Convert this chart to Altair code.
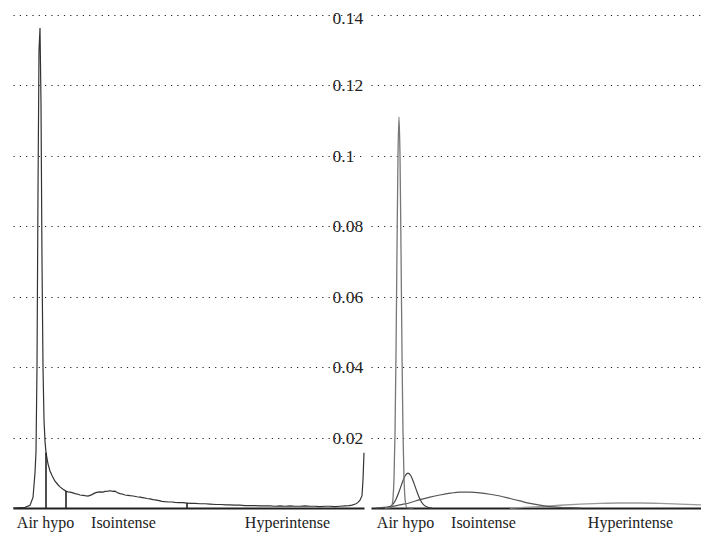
import altair as alt
import pandas as pd

# ---------------- data ----------------
# left panel: measured intensity histogram (bin index -> relative frequency)
hist_bin = [0, 12, 17, 20, 22, 23, 24, 25, 26, 27, 28, 29, 30, 31, 32, 33, 35, 37, 39, 42,
            45, 47, 50, 53, 55, 57, 60, 62, 65, 67, 70, 72, 75, 77, 79, 82, 85, 87, 90, 92,
            95, 97, 100, 102, 104, 107, 110, 112, 115, 117, 120, 124, 127, 131, 134, 137, 140, 142,
            146, 149, 152, 156, 159, 162, 166, 170, 174, 178, 182, 187, 192, 197, 203, 208, 213,
            217, 222, 227, 232, 237, 242, 247, 252, 257, 262, 267, 272, 277, 282, 287, 292, 297,
            302, 307, 312, 317, 322, 327, 332, 336, 339, 341, 343, 345, 347, 349, 350, 351]
hist_density = [0.0, 0.0002, 0.0008, 0.003, 0.010, 0.016, 0.040, 0.090, 0.130, 0.1363, 0.115,
                0.070, 0.040, 0.025, 0.019, 0.0157, 0.0125, 0.0105, 0.0092, 0.0076,
                0.0066, 0.0060, 0.0053, 0.0048, 0.0046, 0.0045, 0.0043, 0.0041, 0.0039, 0.0037,
                0.0036, 0.0035, 0.0034, 0.0036, 0.0038, 0.0043, 0.0045, 0.0046, 0.0045, 0.0047,
                0.0048, 0.0049, 0.0047, 0.0048, 0.0044, 0.0041, 0.0039, 0.0037, 0.0036, 0.0035,
                0.0034, 0.0032, 0.0031, 0.0029, 0.0027, 0.0026, 0.0024, 0.0023,
                0.0021, 0.0019, 0.0018, 0.0017, 0.0017, 0.0016, 0.0015, 0.0015, 0.0014, 0.0013,
                0.0013, 0.0012, 0.0012, 0.0011, 0.0010, 0.0010, 0.0009,
                0.0009, 0.0008, 0.0008, 0.0007, 0.0007, 0.0007, 0.0006, 0.0006, 0.0006, 0.0005,
                0.0006, 0.0005, 0.0006, 0.0005, 0.0005, 0.0006, 0.0005,
                0.0005, 0.0004, 0.0005, 0.0005, 0.0004, 0.0005, 0.0006, 0.0007, 0.0008, 0.0010,
                0.0012, 0.0016, 0.0022, 0.0035, 0.008, 0.0157]

# left panel: class thresholds drawn as vertical lines
thr_bin = [33, 53, 174]
thr_density = [0.0157, 0.0048, 0.0014]

# right panel: fitted class distributions
peak_bin = [14, 20, 21, 22, 23, 24, 25, 26, 27, 28, 29, 30, 31, 32, 33, 34, 35, 36, 42]
peak_density = [0.0, 0.0001, 0.0007, 0.0027, 0.0084, 0.0212, 0.0438, 0.0735, 0.100, 0.111,
                0.100, 0.0735, 0.0438, 0.0212, 0.0084, 0.0027, 0.0007, 0.0001, 0.0]

air_bin = [13, 16, 19, 22, 25, 28, 31, 34, 37, 40, 43, 46, 49, 52, 55, 58, 61]
air_density = [0.0, 0.0001, 0.0004, 0.0011, 0.0025, 0.0046, 0.0070, 0.0091, 0.0099,
               0.0091, 0.0070, 0.0046, 0.0025, 0.0011, 0.0004, 0.0001, 0.0]

iso_bin = [5, 19, 29, 39, 49, 59, 69, 79, 89, 99, 109, 119, 129, 139, 149, 159, 169, 179,
           189, 199, 210]
iso_density = [0.0, 0.0003, 0.0009, 0.0015, 0.0024, 0.0031, 0.0037, 0.0042, 0.0045, 0.0045,
               0.0043, 0.0039, 0.0034, 0.0027, 0.0020, 0.0013, 0.0008, 0.0004, 0.0002,
               0.0001, 0.0]

hyper_bin = [139, 149, 169, 189, 209, 229, 249, 269, 289, 309, 330]
hyper_density = [0.0, 0.0001, 0.0004, 0.0008, 0.0011, 0.0013, 0.0014, 0.0014, 0.0013,
                 0.0011, 0.0009]

class_names = ["Air hypo", "Isointense", "Hyperintense"]
left_label_bins = [32, 110, 274]
right_label_bins = [34, 112, 259]
y_ticks = [0.02, 0.04, 0.06, 0.08, 0.10, 0.12, 0.14]

# ---------------- chart ----------------
FONT = "Liberation Serif"
GRID = dict(grid=True, gridColor="#222", gridDash=[1.2, 5.1], gridWidth=1.2)


def label_expr(bins):
    expr = "''"
    for b, n in reversed(list(zip(bins, class_names))):
        expr = f"datum.value == {b} ? '{n}' : (" + expr + ")"
    return expr


y_scale = alt.Scale(domain=[0, 0.14], nice=False, zero=True)

# left panel: grid only
y_left = alt.Y(
    "density:Q", scale=y_scale,
    axis=alt.Axis(orient="left", values=y_ticks, title=None, domain=False, ticks=False,
                  tickSize=0, labels=False, **GRID),
)
# right panel: grid plus the tick labels, pulled inwards so they sit between the panels
y_right = alt.Y(
    "density:Q", scale=y_scale,
    axis=alt.Axis(
        orient="left", offset=-319, values=y_ticks, format=".2~f", title=None,
        domain=False, ticks=False, tickSize=0, labelPadding=0, labelAlign="left",
        labelBaseline="middle",
        labelOffset={"condition": {"test": "datum.value > 0.13", "value": 3}, "value": 0.5},
        labelFont=FONT, labelFontSize=17.5, labelColor="#222", **GRID,
    ),
)


def x_axis(bins):
    return alt.Axis(
        orient="bottom", values=bins, labelExpr=label_expr(bins), title=None,
        grid=False, ticks=False, tickSize=0, domainColor="#222", domainWidth=2,
        labelFont=FONT, labelFontSize=16, labelColor="#222", labelPadding=6,
        labelOverlap=False, labelFlush=False,
    )


left_x = alt.X("bin:Q", scale=alt.Scale(domain=[0, 351], range=[0, 351], nice=False, zero=False),
               axis=x_axis(left_label_bins))
right_x = alt.X("bin:Q", scale=alt.Scale(domain=[0, 330], range=[358, 688], nice=False, zero=False),
                axis=x_axis(right_label_bins))

hist_df = pd.DataFrame({"bin": hist_bin, "density": hist_density})
thr_df = pd.DataFrame({"bin": thr_bin, "density": thr_density, "base": [0.0] * len(thr_bin)})

hist_line = alt.Chart(hist_df).mark_line(color="#333", strokeWidth=1.2).encode(x=left_x, y=y_left)
thr_rules = alt.Chart(thr_df).mark_rule(color="#222", strokeWidth=1.6).encode(
    x=left_x, y=alt.Y("base:Q"), y2="density:Q")
left = alt.layer(hist_line, thr_rules)


def curve(bins, dens, color, width):
    df = pd.DataFrame({"bin": bins, "density": dens})
    return alt.Chart(df).mark_line(color=color, strokeWidth=width, interpolate="monotone").encode(
        x=right_x, y=y_right)


right = alt.layer(
    curve(hyper_bin, hyper_density, "#999", 1.4),
    curve(iso_bin, iso_density, "#555", 1.2),
    curve(air_bin, air_density, "#444", 1.2),
    curve(peak_bin, peak_density, "#777", 1.3),
)

chart = (
    alt.layer(left, right)
    .resolve_scale(x="independent")
    .resolve_axis(x="independent", y="independent")
    .properties(width=688, height=493,
                padding={"left": 5, "top": 7, "right": 0, "bottom": 26},
                autosize=alt.AutoSizeParams(type="none"))
    .configure_view(strokeWidth=0)
)

chart.save("out.html", embed_options={"renderer": "svg", "actions": False})
